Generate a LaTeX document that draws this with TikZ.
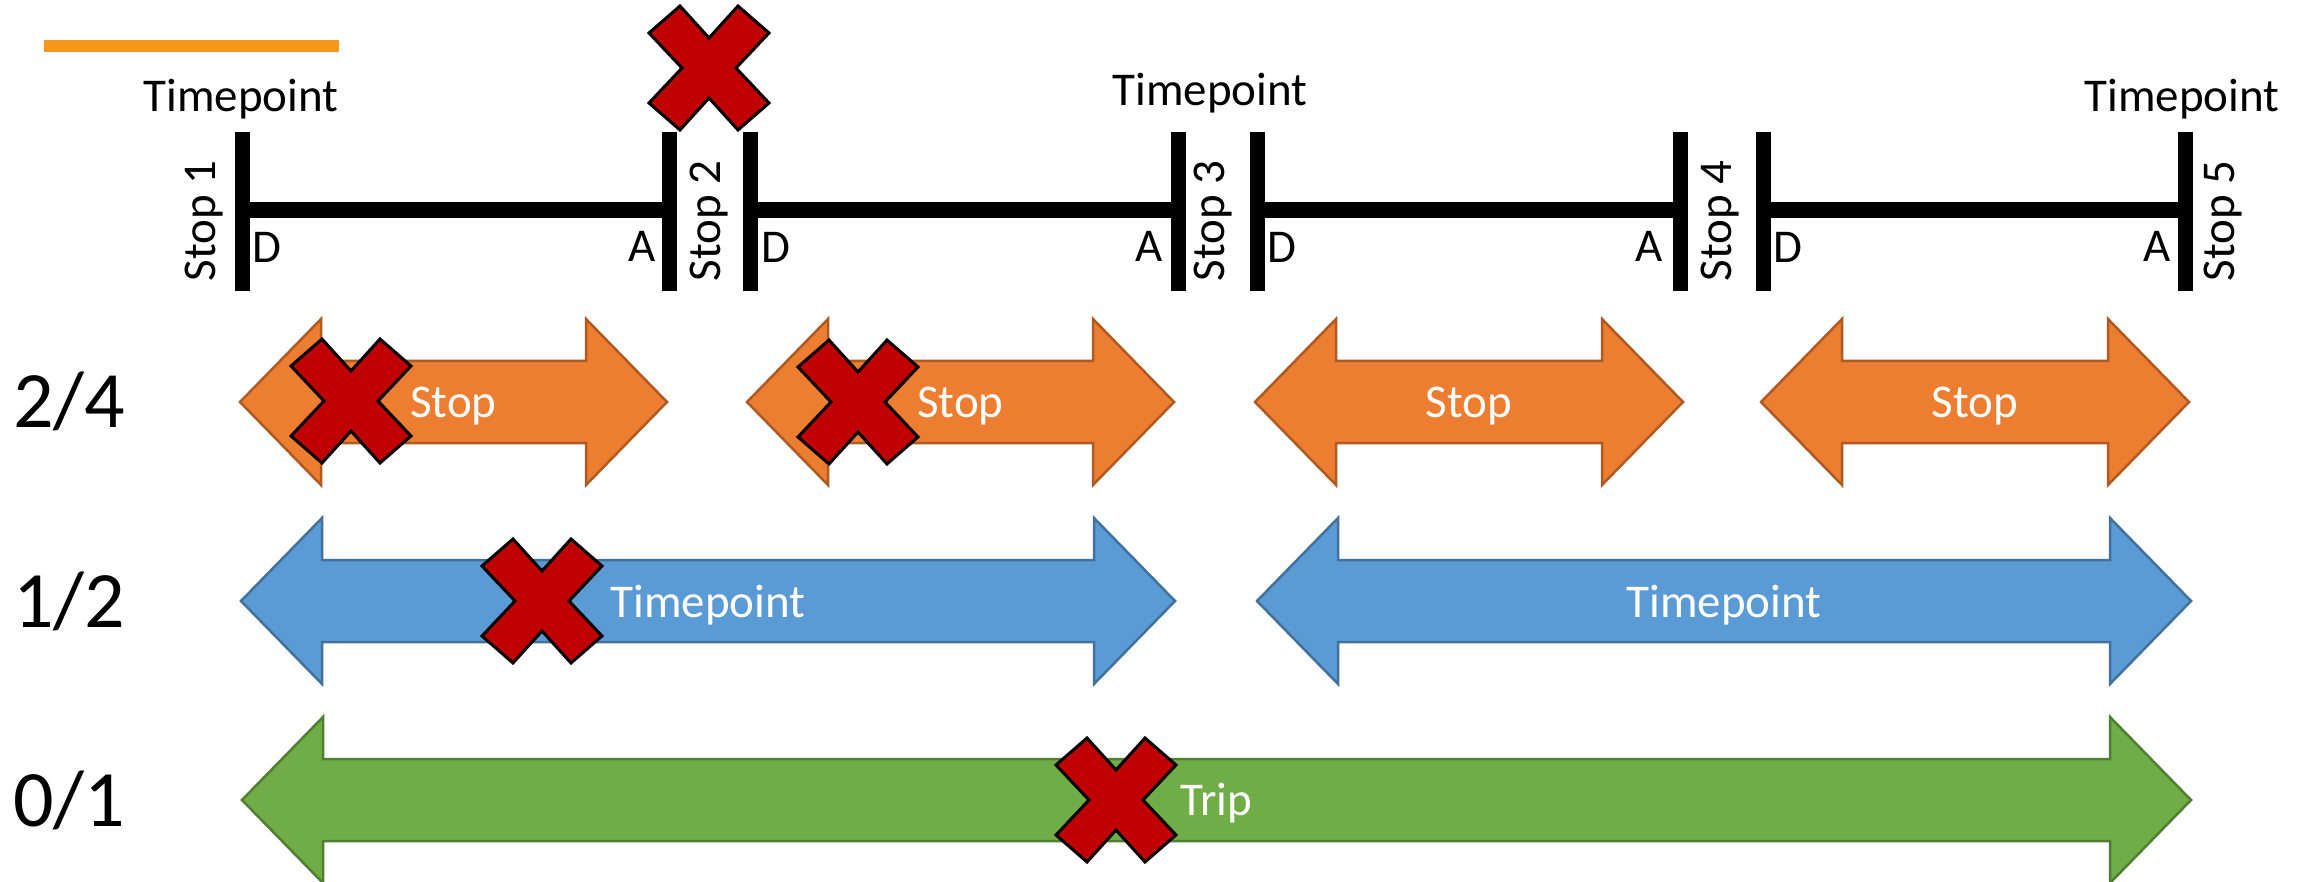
\documentclass[tikz,border=0pt]{standalone}
\usepackage{fontspec}
\setmainfont{Carlito}
\usepackage{tikz}
\definecolor{stopOrange}{RGB}{237,125,49}
\definecolor{stopOrangeLine}{RGB}{174,90,33}
\definecolor{tpBlue}{RGB}{91,155,213}
\definecolor{tpBlueLine}{RGB}{65,113,156}
\definecolor{tripGreen}{RGB}{112,173,71}
\definecolor{tripGreenLine}{RGB}{80,126,50}
\definecolor{crossRed}{RGB}{192,0,0}
\definecolor{legendOrange}{RGB}{247,152,29}
\usetikzlibrary{positioning}

% two-headed block arrow: style, left tip, right tip, middle y
\newcommand{\twoarrow}[4]{%
  \draw[#1] (#2,#4) -- (#2+81,#4-83) -- (#2+81,#4-41) -- (#3-81,#4-41) -- (#3-81,#4-83)
    -- (#3,#4) -- (#3-81,#4+83) -- (#3-81,#4+41) -- (#2+81,#4+41) -- (#2+81,#4+83) -- cycle;}

\begin{document}
\begin{tikzpicture}[
    x=1pt, y=-1pt,
    lbl/.style={font=\fontsize{47}{50}\selectfont, inner sep=0pt, text height=30pt, text depth=0pt},
    inlbl/.style={lbl, text=white},
    rowlbl/.style={font=\fontsize{80}{84}\selectfont, inner sep=0pt, anchor=base west},
    bar/.style={line width=15pt, black},
    seg/.style={line width=16pt, black},
    stoparrow/.style={fill=stopOrange, draw=stopOrangeLine, line width=2.5pt},
    tparrow/.style={fill=tpBlue, draw=tpBlueLine, line width=2.5pt},
    triparrow/.style={fill=tripGreen, draw=tripGreenLine, line width=2.5pt},
    crossx/.style={fill=crossRed, draw=black, line width=3pt, line join=miter},
    redx/.pic={\draw[crossx] (-29,-62) -- (0,-30) -- (29,-62) -- (60,-35) -- (27,0) -- (60,35)
      -- (29,62) -- (0,30) -- (-29,62) -- (-60,35) -- (-27,0) -- (-60,-35) -- cycle;}
]
    \useasboundingbox (0,0) rectangle (2313,882);

    % legend line
    \fill[legendOrange] (44,40) rectangle (339,52);

    % timeline
    \foreach \x/\n in {242.5/1, 669.5/2a, 750.5/2b, 1178/3a, 1257.5/3b, 1680/4a, 1763.5/4b, 2185/5} {
        \draw[bar] (\x,132) -- (\x,291);
        \coordinate (bar\n) at (\x,210);
    }
    \draw[seg] (bar1) -- (bar2a);
    \draw[seg] (bar2b) -- (bar3a);
    \draw[seg] (bar3b) -- (bar4a);
    \draw[seg] (bar4b) -- (bar5);

    \node[lbl, anchor=base] (tp1) at (241,112) {Timepoint};
    \node[lbl, anchor=base] (tp3) at (1210,106) {Timepoint};
    \node[lbl, anchor=base] (tp5) at (2182,112) {Timepoint};

    \node[lbl, rotate=90, anchor=base] (stop1) at (215,221) {Stop 1};
    \node[lbl, rotate=90, anchor=base] (stop2) at (720,221) {Stop 2};
    \node[lbl, rotate=90, anchor=base] (stop3) at (1224,221) {Stop 3};
    \node[lbl, rotate=90, anchor=base] (stop4) at (1731,221) {Stop 4};
    \node[lbl, rotate=90, anchor=base] (stop5) at (2234,221) {Stop 5};

    \foreach \x/\n in {252/1, 761/2, 1267/3, 1773/4}
        \node[lbl, anchor=base west] (dep\n) at (\x,263) {D};
    \foreach \x/\n in {656/2, 1163/3, 1663/4, 2171/5}
        \node[lbl, anchor=base east] (arr\n) at (\x,262) {A};

    % levels
    \node[rowlbl] (lvl24) at (13,428) {2/4};
    \node[rowlbl] (lvl12) at (13,627) {1/2};
    \node[rowlbl] (lvl01) at (13,826) {0/1};

    \foreach \a/\b/\n in {240/667/1, 747/1174/2, 1255/1683/3, 1761/2189/4} {
        \twoarrow{stoparrow}{\a}{\b}{402}
        \node[inlbl] (seg\n) at ({(\a+\b)/2},402.5) {Stop};
    }
    \foreach \a/\b/\n in {241/1175/1, 1257/2191/2} {
        \twoarrow{tparrow}{\a}{\b}{601}
        \node[inlbl] (tpseg\n) at ({(\a+\b)/2},602) {Timepoint};
    }
    \twoarrow{triparrow}{242}{2191}{800}
    \node[inlbl] (trip) at (1216,800) {Trip};

    % removed pieces
    \pic at (709,68) {redx};
    \pic at (351,401) {redx};
    \pic at (858,402) {redx};
    \pic at (542,601) {redx};
    \pic at (1116,800) {redx};
\end{tikzpicture}
\end{document}
